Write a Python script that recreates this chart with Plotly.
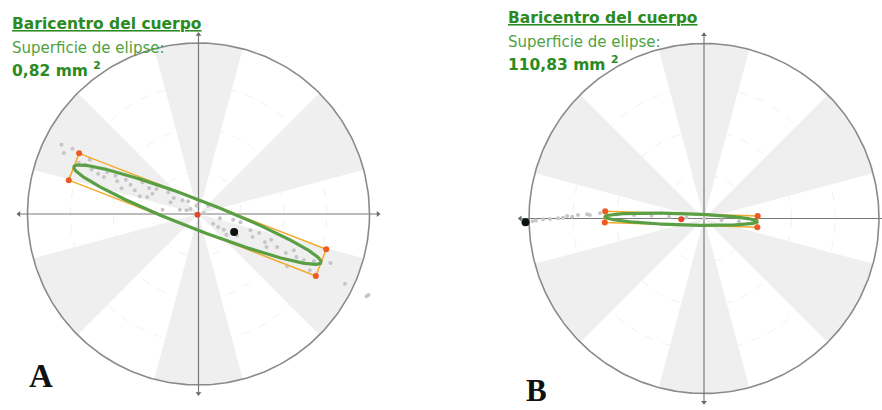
import numpy as np
import plotly.graph_objects as go

# ---------------- Panel A (stable stance) — values in mm ----------------
a_radius = 2.0
a_pts_x = [-1.602, -1.575, -1.474, -1.173, -1.107, -1.068, -0.971, -0.951, -0.850, -0.795,
           -0.745, -0.655, -0.577, -0.538, -0.491, -0.421, -0.355, -0.327, -0.288, -0.218,
           -0.187, -0.140, -0.121, -0.094, -0.023, 0.062, 0.113, 0.172, 0.230, 0.296,
           0.491, 0.608, 0.632, 0.710, 0.776, 0.795, 0.920, 1.021, 1.115, 1.146,
           1.232, 1.037, 1.302, 1.544, 1.712, 1.965, 1.988, -1.329, -1.271, -0.686,
           0.327, 0.405, -1.40, -1.25, -0.90, -0.60, 0.25, 0.45, 0.85, 1.35]
a_pts_y = [0.811, 0.713, 0.764, 0.472, 0.433, 0.487, 0.448, 0.382, 0.402, 0.343,
           0.277, 0.370, 0.304, 0.238, 0.292, 0.051, 0.253, 0.136, 0.187, 0.051,
           0.160, 0.043, 0.148, 0.058, 0.097, 0.012, 0.097, -0.113, -0.152, -0.183,
           -0.097, -0.191, -0.269, -0.222, -0.331, -0.386, -0.386, -0.456, -0.425, -0.503,
           -0.542, -0.612, -0.659, -0.573, -0.815, -0.963, -0.947, 0.577, 0.635, 0.207,
           -0.242, -0.066, 0.60, 0.52, 0.30, 0.20, -0.05, -0.25, -0.30, -0.55]
a_current = (0.417, -0.211)
a_centre = (-0.012, -0.008)
a_semi_major = 1.55
a_semi_minor = 0.168
a_angle_deg = -21.2
a_area = "0,82"

# ---------------- Panel B — values in mm ----------------
b_radius = 50.0
b_pts_x = [-49.0, -48.0, -46.0, -44.0, -41.7, -40.3, -39.1, -37.7, -36.0, -33.4,
           -32.6, -29.7, -28.0, -25.0, -20.0, -15.0, -10.0, -5.0, 0.0, 5.0, 10.0, 14.0]
b_pts_y = [-0.8, -0.6, -0.23, -0.14, 0.06, 0.23, 0.71, 0.51, 1.0, 1.2,
           1.0, 1.49, 1.3, 1.2, 1.0, 0.8, 0.5, 0.3, 0.0, -0.5, -0.8, -1.0]
b_current = (-51.0, -1.1)
b_centre = (-6.5, -0.2)
b_semi_major = 21.8
b_semi_minor = 1.62
b_angle_deg = -1.8
b_area = "110,83"

# grey sectors: 30° wide, centred on these bearings
sector_centres = [30, 90, 150, 210, 270, 330]
sector_half_width = 15
grid_fractions = [0.25, 0.5, 0.75]

GREEN_TITLE = "#2b8a20"
GREEN_TEXT = "#4ea23f"
GREEN_ELLIPSE = "#5b9f45"
ORANGE_LINE = "#f3aa2c"
ORANGE_DOT = "#ee5a22"
FONT = "DejaVu Sans"

fig = go.Figure()


def add_panel(xa, ya, R, px, py, cur, ctr, a, b, ang_deg):
    # sectors
    for c in sector_centres:
        t = np.radians(np.linspace(c - sector_half_width, c + sector_half_width, 40))
        sx = np.concatenate([[0], R * np.cos(t), [0]])
        sy = np.concatenate([[0], R * np.sin(t), [0]])
        fig.add_trace(go.Scatter(x=sx, y=sy, mode="lines", fill="toself",
                                 fillcolor="#efefef", line=dict(width=0),
                                 xaxis=xa, yaxis=ya, hoverinfo="skip", showlegend=False))
    # faint dashed grid rings
    t = np.linspace(0, 2 * np.pi, 300)
    for f in grid_fractions:
        fig.add_trace(go.Scatter(x=f * R * np.cos(t), y=f * R * np.sin(t), mode="lines",
                                 line=dict(color="#f1f1f1", width=1, dash="dash"),
                                 xaxis=xa, yaxis=ya, hoverinfo="skip", showlegend=False))
    # outer circle
    fig.add_trace(go.Scatter(x=R * np.cos(t), y=R * np.sin(t), mode="lines",
                             line=dict(color="#8a8a8a", width=1.6),
                             xaxis=xa, yaxis=ya, hoverinfo="skip", showlegend=False))
    # axes cross with small arrowheads
    L = 1.05 * R
    fig.add_trace(go.Scatter(x=[-L, L], y=[0, 0], mode="lines",
                             line=dict(color="#7a7a7a", width=1.2),
                             xaxis=xa, yaxis=ya, hoverinfo="skip", showlegend=False))
    fig.add_trace(go.Scatter(x=[0, 0], y=[-L, L], mode="lines",
                             line=dict(color="#7a7a7a", width=1.2),
                             xaxis=xa, yaxis=ya, hoverinfo="skip", showlegend=False))
    fig.add_trace(go.Scatter(x=[-L, L, 0, 0], y=[0, 0, L, -L], mode="markers",
                             marker=dict(symbol=["triangle-left", "triangle-right",
                                                 "triangle-up", "triangle-down"],
                                         size=5, color="#6a6a6a"),
                             xaxis=xa, yaxis=ya, hoverinfo="skip", showlegend=False))
    # sway samples
    fig.add_trace(go.Scatter(x=px, y=py, mode="markers",
                             marker=dict(size=4, color="#c6c6c6"),
                             xaxis=xa, yaxis=ya, hoverinfo="skip", showlegend=False))
    # confidence ellipse and its bounding rectangle
    th = np.radians(ang_deg)
    u = np.array([np.cos(th), np.sin(th)])
    v = np.array([-np.sin(th), np.cos(th)])
    cx, cy = ctr
    corners = [np.array([cx, cy]) + sa * a * u + sb * b * v
               for sa, sb in [(-1, 1), (1, 1), (1, -1), (-1, -1)]]
    rx = [p[0] for p in corners] + [corners[0][0]]
    ry = [p[1] for p in corners] + [corners[0][1]]
    fig.add_trace(go.Scatter(x=rx, y=ry, mode="lines",
                             line=dict(color=ORANGE_LINE, width=1.5),
                             xaxis=xa, yaxis=ya, hoverinfo="skip", showlegend=False))
    ex = cx + a * np.cos(t) * u[0] + b * np.sin(t) * v[0]
    ey = cy + a * np.cos(t) * u[1] + b * np.sin(t) * v[1]
    fig.add_trace(go.Scatter(x=ex, y=ey, mode="lines",
                             line=dict(color=GREEN_ELLIPSE, width=3.2),
                             xaxis=xa, yaxis=ya, hoverinfo="skip", showlegend=False))
    fig.add_trace(go.Scatter(x=rx[:4], y=ry[:4], mode="markers",
                             marker=dict(size=6, color=ORANGE_DOT),
                             xaxis=xa, yaxis=ya, hoverinfo="skip", showlegend=False))
    fig.add_trace(go.Scatter(x=[cx], y=[cy], mode="markers",
                             marker=dict(size=6, color="#e8452c"),
                             xaxis=xa, yaxis=ya, hoverinfo="skip", showlegend=False))
    fig.add_trace(go.Scatter(x=[cur[0]], y=[cur[1]], mode="markers",
                             marker=dict(size=8, color="#0b140b"),
                             xaxis=xa, yaxis=ya, hoverinfo="skip", showlegend=False))


add_panel("x", "y", a_radius, a_pts_x, a_pts_y, a_current, a_centre,
          a_semi_major, a_semi_minor, a_angle_deg)
add_panel("x2", "y2", b_radius, b_pts_x, b_pts_y, b_current, b_centre,
          b_semi_major, b_semi_minor, b_angle_deg)

W, H = 882, 410


def axis_ranges(cx_px, cy_px, scale, x0_px, x1_px):
    xr = [(x0_px - cx_px) / scale, (x1_px - cx_px) / scale]
    yr = [-(H - cy_px) / scale, cy_px / scale]
    return xr, yr


ax_xr, ax_yr = axis_ranges(198.5, 214, 171 / a_radius, 0, W / 2)
bx_xr, bx_yr = axis_ranges(704, 218.5, 175 / b_radius, W / 2, W)

hidden = dict(visible=False, showgrid=False, zeroline=False, fixedrange=True)
fig.update_layout(
    width=W, height=H, margin=dict(l=0, r=0, t=0, b=0),
    paper_bgcolor="white", plot_bgcolor="white", showlegend=False,
    xaxis=dict(domain=[0, 0.5], range=ax_xr, **hidden),
    yaxis=dict(domain=[0, 1], range=ax_yr, **hidden),
    xaxis2=dict(domain=[0.5, 1], range=bx_xr, anchor="y2", **hidden),
    yaxis2=dict(domain=[0, 1], range=bx_yr, anchor="x2", **hidden),
)


def label(x_px, y_px, text, size, color, family=FONT):
    fig.add_annotation(x=x_px / W, y=1 - y_px / H, xref="paper", yref="paper",
                       text=text, showarrow=False, xanchor="left", yanchor="middle",
                       font=dict(family=family, size=size, color=color))


for x0, ytop, area in [(10, 24, a_area), (506, 18, b_area)]:
    label(x0, ytop, "<b><u>Baricentro del cuerpo</u></b>", 15.5, GREEN_TITLE)
    label(x0, ytop + 24, "Superficie de elipse:", 15, GREEN_TEXT)
    label(x0, ytop + 45, f"<b>{area} mm <sup>2</sup></b>", 15.5, GREEN_TITLE)

label(27, 376, "<b>A</b>", 33, "#111111", "Liberation Serif")
label(524, 390, "<b>B</b>", 31, "#111111", "Liberation Serif")

fig.write_html("out.html")
